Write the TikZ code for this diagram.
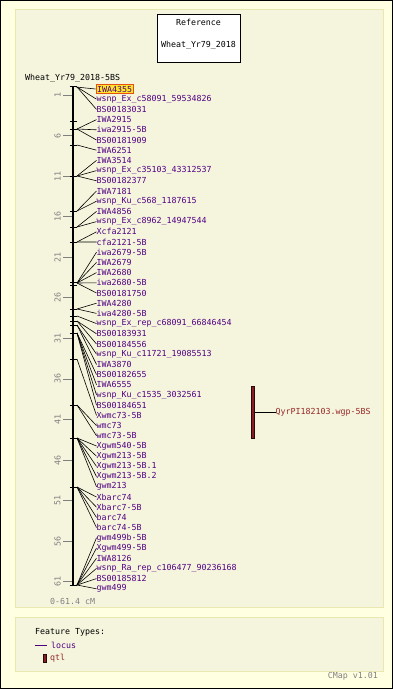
\documentclass[tikz,border=0pt]{standalone}
\usepackage{fontspec}
\setmonofont{DejaVu Sans Mono}
\definecolor{outerbg}{RGB}{255,255,226}
\definecolor{panelbg}{RGB}{245,245,222}
\definecolor{panelborder}{RGB}{232,232,176}
\definecolor{labpurple}{RGB}{80,0,130}
\definecolor{qtlred}{RGB}{135,30,35}
\definecolor{qtltext}{RGB}{150,40,40}
\definecolor{scalegray}{RGB}{128,128,128}
\definecolor{hlyellow}{RGB}{255,230,40}
\definecolor{hlborder}{RGB}{230,80,20}
\begin{document}
\begin{tikzpicture}[x=1pt,y=-1pt,
  txt/.style={inner sep=0pt,font=\ttfamily\fontsize{8.3}{9}\selectfont},
  lab/.style={txt,anchor=west,text=labpurple},
  conn/.style={black,line width=0.6pt},
  feat/.style={black,line width=0.8pt},
  scaletick/.style={scalegray,line width=0.8pt},
  scalelab/.style={txt,text=scalegray,rotate=90},
  panel/.style={draw=panelborder,fill=panelbg,line width=1pt}]
\useasboundingbox (0,0) rectangle (393,689);
\fill[outerbg] (0,0) rectangle (393,689);
\draw[black,line width=1pt] (0.5,0.5) rectangle (392.5,688.5);
% panels
\draw[panel] (15,9) rectangle (383,607);
\draw[panel] (15,617) rectangle (383,671);
% reference box
\node (refbox) [draw=black,fill=white,line width=0.8pt,minimum width=83pt,minimum height=48pt,anchor=north west,inner sep=0pt] at (157,14) {};
\node (reft1) [txt] at (198.5,22) {Reference};
\node (reft2) [txt] at (198.5,45) {Wheat\_Yr79\_2018};
% map title
\node (maptitle) [txt,anchor=west] at (25,78) {Wheat\_Yr79\_2018-5BS};
% scale
\foreach \c in {1,6,...,61}{
  \pgfmathsetmacro{\yy}{87+8.11*\c}
  \coordinate (sa\c) at (63,\yy);
  \coordinate (sb\c) at (72,\yy);
  \draw[scaletick] (sa\c) -- (sb\c);
  \node (sl\c) [scalelab] at (57.5,\yy) {\c};
}
% chromosome bar
\coordinate (bartop) at (73,86);
\coordinate (barbot) at (73,586);
\draw[black,line width=2.6pt] (bartop) -- (barbot);
\draw[feat,line width=1pt] (69.5,86.5) -- (77,86.5);
\draw[feat,line width=1pt] (69.5,585.5) -- (77,585.5);
% feature ticks
\foreach \fy in {121,129,145,176,211,227,242,282,285,309,316,321,325,333,359,405,438,487}{
  \draw[feat] (70,\fy) -- (77,\fy);
}
% labels and connectors
\node (l1) [lab,fill=hlyellow,draw=hlborder,line width=0.8pt,inner sep=1.2pt] at (95.5,89) {IWA4355};
\coordinate (p1) at (76,87);
\draw[conn] (p1) -- (l1.west);
\foreach \i/\fy/\t in {
2/87/wsnp\_Ex\_c58091\_59534826,
3/87/BS00183031,
4/129/IWA2915,
5/129/iwa2915-5B,
6/129/BS00181909,
7/145/IWA6251,
8/176/IWA3514,
9/176/wsnp\_Ex\_c35103\_43312537,
10/176/BS00182377,
11/211/IWA7181,
12/211/wsnp\_Ku\_c568\_1187615,
13/227/IWA4856,
14/227/wsnp\_Ex\_c8962\_14947544,
15/242/Xcfa2121,
16/242/cfa2121-5B,
17/283/iwa2679-5B,
18/283/IWA2679,
19/283/IWA2680,
20/283/iwa2680-5B,
21/283/BS00181750,
22/309/IWA4280,
23/309/iwa4280-5B,
24/316/wsnp\_Ex\_rep\_c68091\_66846454,
25/321/BS00183931,
26/321/BS00184556,
27/325/wsnp\_Ku\_c11721\_19085513,
28/325/IWA3870,
29/333/BS00182655,
30/333/IWA6555,
31/333/wsnp\_Ku\_c1535\_3032561,
32/333/BS00184651,
33/359/Xwmc73-5B,
34/405/wmc73,
35/405/wmc73-5B,
36/438/Xgwm540-5B,
37/438/Xgwm213-5B,
38/438/Xgwm213-5B.1,
39/438/Xgwm213-5B.2,
40/438/gwm213,
41/487/Xbarc74,
42/487/Xbarc7-5B,
43/487/barc74,
44/487/barc74-5B,
45/585/gwm499b-5B,
46/585/Xgwm499-5B,
47/585/IWA8126,
48/585/wsnp\_Ra\_rep\_c106477\_90236168,
49/585/BS00185812,
50/585/gwm499}{
  \pgfmathsetmacro{\ly}{89+(\i-1)*10.2}
  \node (l\i) [lab] at (96.5,\ly) {\t};
  \coordinate (p\i) at (77,\fy);
  \draw[conn] (p\i) -- (l\i.west);
}
\node (range) [txt,anchor=west,text=scalegray] at (50,601) {0-61.4 cM};
% QTL
\node (qtlbar) [draw=black!70!qtlred,fill=qtlred,line width=0.6pt,minimum width=3.5pt,minimum height=52pt,inner sep=0pt] at (253,412) {};
\node (qtllab) [txt,anchor=west,text=qtltext] at (275.5,412) {QyrPI182103.wgp-5BS};
\draw[conn] (qtlbar.east) -- (qtllab.west);
% legend
\node (legtitle) [txt,anchor=west] at (35,632) {Feature Types:};
\coordinate (loca) at (35,645);
\coordinate (locb) at (47,645);
\draw[labpurple,line width=0.8pt] (loca) -- (locb);
\node (loclab) [lab] at (51,645) {locus};
\node (qtlleg) [draw=black!70!qtlred,fill=qtlred,line width=0.5pt,minimum width=3pt,minimum height=8pt,inner sep=0pt] at (44.5,658) {};
\node (qtlleglab) [txt,anchor=west,text=qtltext] at (50,658) {qtl};
\node (cmap) [txt,anchor=east,text=scalegray] at (378,676) {CMap v1.01};
\end{tikzpicture}
\end{document}
